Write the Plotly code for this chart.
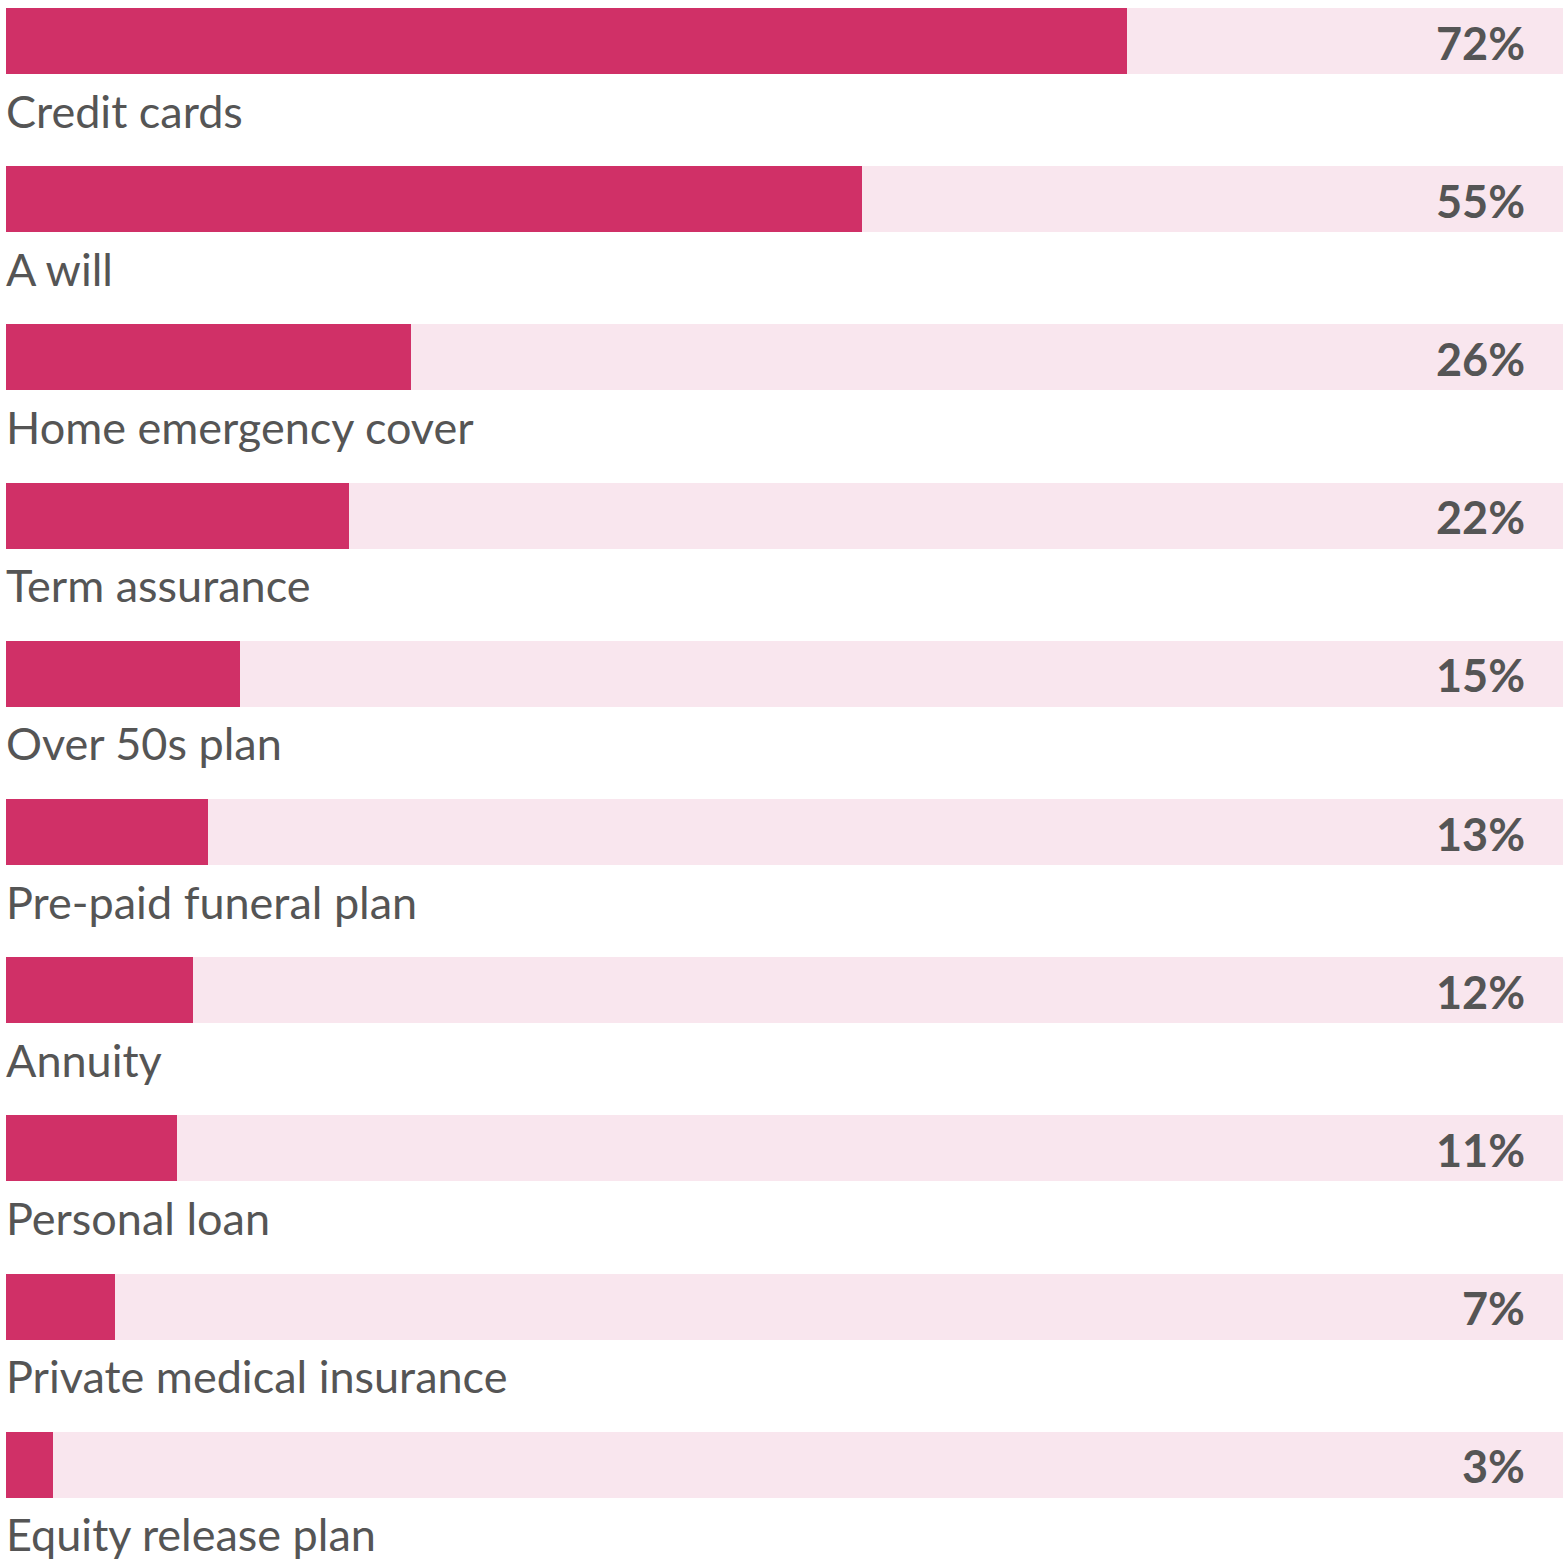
import plotly.graph_objects as go

categories = ["Credit cards", "A will", "Home emergency cover", "Term assurance",
              "Over 50s plan", "Pre-paid funeral plan", "Annuity", "Personal loan",
              "Private medical insurance", "Equity release plan"]
values = [72, 55, 26, 22, 15, 13, 12, 11, 7, 3]
value_labels = [f"{v}%" for v in values]

DARK = "#D03067"
LIGHT = "#F9E6EE"
TEXT = "#555555"

pos = list(range(len(categories)))

fig = go.Figure()
fig.add_trace(go.Bar(
    y=pos, x=[100] * len(pos), orientation="h", width=0.417,
    marker=dict(color=LIGHT, line=dict(width=0)), hoverinfo="skip", showlegend=False))
fig.add_trace(go.Bar(
    y=pos, x=values, orientation="h", width=0.417,
    marker=dict(color=DARK, line=dict(width=0)), hoverinfo="skip", showlegend=False))

for i, (cat, lab) in enumerate(zip(categories, value_labels)):
    fig.add_annotation(x=0, y=i + 0.44, xref="x", yref="y", text=cat, showarrow=False,
                       xanchor="left", yanchor="middle", xshift=-2,
                       font=dict(family="Lato", size=45, color=TEXT))
    fig.add_annotation(x=1, y=i + 0.01, xref="paper", yref="y", text=f"<b>{lab}</b>",
                       showarrow=False, xanchor="right", yanchor="middle", xshift=-36,
                       font=dict(family="Lato", size=45, color=TEXT))

fig.update_layout(
    width=1563, height=1560, barmode="overlay", bargap=0,
    margin=dict(l=6, r=0, t=0, b=0),
    paper_bgcolor="white", plot_bgcolor="white",
    xaxis=dict(range=[0, 100], visible=False, fixedrange=True),
    yaxis=dict(range=[9.602, -0.2592], visible=False, fixedrange=True),
)

fig.write_html("out.html")
